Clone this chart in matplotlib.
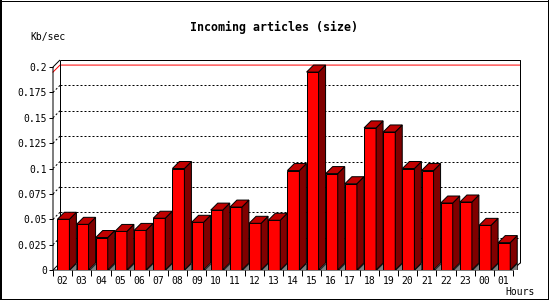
import matplotlib
matplotlib.use("Agg")
import matplotlib.pyplot as plt
from matplotlib.patches import Polygon, Rectangle
from matplotlib.lines import Line2D

hours = ["02", "03", "04", "05", "06", "07", "08", "09", "10", "11", "12", "13",
         "14", "15", "16", "17", "18", "19", "20", "21", "22", "23", "00", "01"]
kbsec = [0.050, 0.045, 0.032, 0.038, 0.039, 0.051, 0.100, 0.047, 0.059, 0.062, 0.046, 0.049,
         0.098, 0.195, 0.095, 0.085, 0.140, 0.136, 0.100, 0.098, 0.066, 0.067, 0.044, 0.027]
yticks = [0, 0.025, 0.05, 0.075, 0.1, 0.125, 0.15, 0.175, 0.2]
ytick_labels = ["0", "0.025", "0.05", "0.075", "0.1", "0.125", "0.15", "0.175", "0.2"]
title = "Incoming articles (size)"
ylabel = "Kb/sec"
xlabel = "Hours"

W, H, DPI = 550, 300, 100
fig = plt.figure(figsize=(W / DPI, H / DPI), dpi=DPI)
fig.patch.set_facecolor("white")

n = len(hours)
ymax = 0.2
slot_px = 460.0 / n
px_per_unit = 203.0 / ymax
dxd = 7.0 / slot_px
dyd = 7.0 / px_per_unit

# axes from front-left (53,270) to back-right (520,60) in pixels
ax = fig.add_axes([53 / W, 1 - 270 / H, 467 / W, 210 / H])
ax.set_xlim(0, n + dxd)
ax.set_ylim(0, ymax + dyd)
for s in ax.spines.values():
    s.set_visible(False)
ax.set_facecolor("none")

lw = 0.72
mono = "DejaVu Sans Mono"

# back-plane grid (dotted) + small marks on left wall
for v in yticks[1:-1]:
    ax.plot([dxd, n + dxd], [v + dyd, v + dyd], color="black", lw=lw,
            linestyle=(0, (2, 2)), zorder=1)
    ax.plot([0, dxd], [v, v + dyd], color="black", lw=lw,
            linestyle=(0, (2, 2)), zorder=1)

# max line (red) on back plane
vmax = max(kbsec)
ax.plot([0, dxd, n + dxd], [vmax, vmax + dyd, vmax + dyd], color="#ff0000", lw=lw,
        zorder=1.5, clip_on=False)

# frame
frame_kw = dict(color="black", lw=lw, zorder=2, clip_on=False, solid_capstyle="butt")
ax.plot([0, 0, dxd], [0, ymax, ymax + dyd], **frame_kw)          # front y axis + diagonal
ax.plot([dxd, dxd], [dyd, ymax + dyd], **frame_kw)               # back left
ax.plot([dxd, n + dxd, n + dxd], [ymax + dyd, ymax + dyd, dyd], **frame_kw)  # top + right
ax.plot([0, n, n + dxd], [0, 0, dyd], **frame_kw)                # front floor + diagonal
ax.plot([0, dxd], [0, dyd], **frame_kw)

# bars
off = 4.4 / slot_px
bw = 12.0 / slot_px
for i, v in enumerate(kbsec):
    x0 = i + off
    x1 = x0 + bw
    z = 3 + i * 0.01
    ax.add_patch(Polygon([(x1, 0), (x1 + dxd, 0), (x1 + dxd, dyd)], closed=True,
                         facecolor="#808080", edgecolor="black", lw=0.5, zorder=z))
    ax.add_patch(Rectangle((x0, 0), bw, v, facecolor="#ff0000", edgecolor="black",
                           lw=lw, zorder=z + 0.001))
    ax.add_patch(Polygon([(x1, 0), (x1 + dxd, dyd), (x1 + dxd, v + dyd), (x1, v)],
                         closed=True, facecolor="#800000", edgecolor="black", lw=lw,
                         zorder=z + 0.002))
    ax.add_patch(Polygon([(x0, v), (x0 + dxd, v + dyd), (x1 + dxd, v + dyd), (x1, v)],
                         closed=True, facecolor="#c00000", edgecolor="black", lw=lw,
                         zorder=z + 0.003))

# ticks
ax.set_yticks(yticks)
ax.set_yticklabels(ytick_labels, fontfamily=mono, fontsize=7)
ax.tick_params(axis="y", direction="out", length=3, width=lw, pad=1.5, colors="black")
ax.set_xticks(range(n + 1))
ax.set_xticklabels([""] * (n + 1))
ax.set_xticks([i + 0.5 for i in range(n)], minor=True)
ax.set_xticklabels(hours, minor=True, fontfamily=mono, fontsize=7)
ax.tick_params(axis="x", which="major", direction="out", length=4, width=lw)
ax.tick_params(axis="x", which="minor", length=0, pad=4)

# texts
fig.text(273.5 / W, 1 - 27 / H, title, ha="center", va="center", fontfamily=mono,
         fontsize=8.4, fontweight="bold")
fig.text(30 / W, 1 - 37 / H, ylabel, ha="left", va="center", fontfamily=mono, fontsize=7)
fig.text(505 / W, 1 - 292 / H, xlabel, ha="left", va="center", fontfamily=mono, fontsize=7)

# image border
tf = fig.transFigure
fig.add_artist(Line2D([1 / W, 1 / W], [0, 1], color="black", lw=1.44, transform=tf))
fig.add_artist(Line2D([0, 548 / W], [1 - 0.5 / H, 1 - 0.5 / H], color="black", lw=0.72, transform=tf))
fig.add_artist(Line2D([547.5 / W, 547.5 / W], [1 - 298.5 / H, 1], color="black", lw=0.72, transform=tf))
fig.add_artist(Line2D([0, 548 / W], [1 - 298.5 / H, 1 - 298.5 / H], color="black", lw=0.72, transform=tf))

fig.savefig("out.png", dpi=DPI, facecolor="white")
